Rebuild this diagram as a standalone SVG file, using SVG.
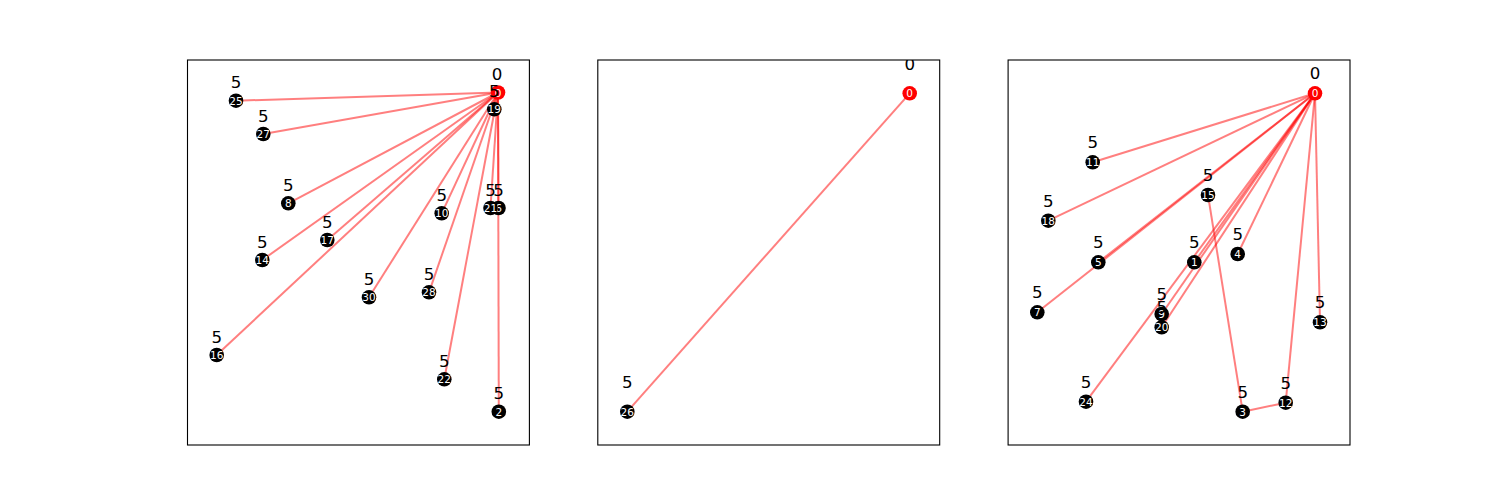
<svg xmlns="http://www.w3.org/2000/svg" width="1500" height="500" viewBox="0 0 1500 500">
<style>
.frame{fill:none;stroke:#000;stroke-width:1.1}
.e{stroke:#ff0000;stroke-opacity:0.5;stroke-width:2;fill:none}
.n{fill:#000}
.r{fill:#ff0000}
.in{font-family:"DejaVu Sans",sans-serif;font-size:10.5px;fill:#fff;text-anchor:middle;dominant-baseline:central}
.lb{font-family:"DejaVu Sans",sans-serif;font-size:16.67px;fill:#000;text-anchor:middle}
</style>
<defs>
<clipPath id="c1"><rect x="187.5" y="60" width="341.9" height="385"/></clipPath>
<clipPath id="c2"><rect x="597.8" y="60" width="341.9" height="385"/></clipPath>
<clipPath id="c3"><rect x="1008.1" y="60" width="341.9" height="385"/></clipPath>
</defs>
<rect width="1500" height="500" fill="#fff"/>

<!-- Panel 1 -->
<g id="panel1">
<g id="p1-edges" class="e">
<line x1="498" y1="92.5" x2="236" y2="100.7"/>
<line x1="498" y1="92.5" x2="263.3" y2="134"/>
<line x1="498" y1="92.5" x2="288.3" y2="203.3"/>
<line x1="498" y1="92.5" x2="327.3" y2="240"/>
<line x1="498" y1="92.5" x2="262.3" y2="260"/>
<line x1="498" y1="92.5" x2="216.7" y2="355"/>
<line x1="498" y1="92.5" x2="369" y2="297.3"/>
<line x1="498" y1="92.5" x2="441.7" y2="213.3"/>
<line x1="498" y1="92.5" x2="429" y2="292.3"/>
<line x1="498" y1="92.5" x2="490.5" y2="208"/>
<line x1="498" y1="92.5" x2="498.5" y2="208"/>
<line x1="498" y1="92.5" x2="444.3" y2="379.3"/>
<line x1="498" y1="92.5" x2="498.8" y2="411.7"/>
</g>
<g clip-path="url(#c1)">
<g id="p1-n0"><circle class="r" cx="498" cy="92.5" r="7.3"/><text class="in" x="498" y="92.5">0</text><text class="lb" x="497" y="80.2">0</text></g>
<g id="p1-n19"><circle class="n" cx="494.3" cy="109.3" r="7.3"/><text class="in" x="494.3" y="109.3">19</text><text class="lb" x="494.3" y="97">5</text></g>
<g id="p1-n25"><circle class="n" cx="236" cy="100.7" r="7.3"/><text class="in" x="236" y="100.7">25</text><text class="lb" x="236" y="88.4">5</text></g>
<g id="p1-n27"><circle class="n" cx="263.3" cy="134" r="7.3"/><text class="in" x="263.3" y="134">27</text><text class="lb" x="263.3" y="121.7">5</text></g>
<g id="p1-n8"><circle class="n" cx="288.3" cy="203.3" r="7.3"/><text class="in" x="288.3" y="203.3">8</text><text class="lb" x="288.3" y="191">5</text></g>
<g id="p1-n17"><circle class="n" cx="327.3" cy="240" r="7.3"/><text class="in" x="327.3" y="240">17</text><text class="lb" x="327.3" y="227.7">5</text></g>
<g id="p1-n14"><circle class="n" cx="262.3" cy="260" r="7.3"/><text class="in" x="262.3" y="260">14</text><text class="lb" x="262.3" y="247.7">5</text></g>
<g id="p1-n16"><circle class="n" cx="216.7" cy="355" r="7.3"/><text class="in" x="216.7" y="355">16</text><text class="lb" x="216.7" y="342.7">5</text></g>
<g id="p1-n30"><circle class="n" cx="369" cy="297.3" r="7.3"/><text class="in" x="369" y="297.3">30</text><text class="lb" x="369" y="285">5</text></g>
<g id="p1-n10"><circle class="n" cx="441.7" cy="213.3" r="7.3"/><text class="in" x="441.7" y="213.3">10</text><text class="lb" x="441.7" y="201">5</text></g>
<g id="p1-n28"><circle class="n" cx="429" cy="292.3" r="7.3"/><text class="in" x="429" y="292.3">28</text><text class="lb" x="429" y="280">5</text></g>
<g id="p1-n6"><circle class="n" cx="498.5" cy="208" r="7.3"/><text class="in" x="498.5" y="208">6</text><text class="lb" x="498.5" y="195.7">5</text></g>
<g id="p1-n21"><circle class="n" cx="490.5" cy="208" r="7.3"/><text class="in" x="490.5" y="208">21</text><text class="lb" x="490.5" y="195.7">5</text></g>
<g id="p1-n22"><circle class="n" cx="444.3" cy="379.3" r="7.3"/><text class="in" x="444.3" y="379.3">22</text><text class="lb" x="444.3" y="367">5</text></g>
<g id="p1-n2"><circle class="n" cx="498.8" cy="411.7" r="7.3"/><text class="in" x="498.8" y="411.7">2</text><text class="lb" x="498.8" y="399.4">5</text></g>
</g>
<rect class="frame" x="187.5" y="60" width="341.9" height="385"/>
</g>

<!-- Panel 2 -->
<g id="panel2">
<g id="p2-edges" class="e">
<line x1="909.7" y1="93.3" x2="627.3" y2="411.7"/>
</g>
<g clip-path="url(#c2)">
<g id="p2-n0"><circle class="r" cx="909.7" cy="93.3" r="7.3"/><text class="in" x="909.7" y="93.3">0</text><text class="lb" x="909.7" y="69.5">0</text></g>
<g id="p2-n26"><circle class="n" cx="627.3" cy="411.7" r="7.3"/><text class="in" x="627.3" y="411.7">26</text><text class="lb" x="627.3" y="388.3">5</text></g>
</g>
<rect class="frame" x="597.8" y="60" width="341.9" height="385"/>
</g>

<!-- Panel 3 -->
<g id="panel3">
<g id="p3-edges" class="e">
<line x1="1315" y1="93.3" x2="1092.7" y2="162.3"/>
<line x1="1315" y1="93.3" x2="1048.3" y2="220.7"/>
<line x1="1315" y1="93.3" x2="1098.3" y2="262.3"/>
<line x1="1315" y1="93.3" x2="1037.3" y2="312.3"/>
<line x1="1315" y1="93.3" x2="1194.3" y2="262.3"/>
<line x1="1315" y1="93.3" x2="1161.7" y2="314"/>
<line x1="1315" y1="93.3" x2="1161.7" y2="327.3"/>
<line x1="1315" y1="93.3" x2="1086" y2="401.7"/>
<line x1="1315" y1="93.3" x2="1237.7" y2="254"/>
<line x1="1315" y1="93.3" x2="1285.7" y2="402.7"/>
<line x1="1315" y1="93.3" x2="1320" y2="322.3"/>
<line x1="1208" y1="195" x2="1242.7" y2="411.7"/>
<line x1="1242.7" y1="411.7" x2="1285.7" y2="402.7"/>
</g>
<g clip-path="url(#c3)">
<g id="p3-n0"><circle class="r" cx="1315" cy="93.3" r="7.3"/><text class="in" x="1315" y="93.3">0</text><text class="lb" x="1315" y="79.3">0</text></g>
<g id="p3-n11"><circle class="n" cx="1092.7" cy="162.3" r="7.3"/><text class="in" x="1092.7" y="162.3">11</text><text class="lb" x="1092.7" y="148.3">5</text></g>
<g id="p3-n18"><circle class="n" cx="1048.3" cy="220.7" r="7.3"/><text class="in" x="1048.3" y="220.7">18</text><text class="lb" x="1048.3" y="206.7">5</text></g>
<g id="p3-n15"><circle class="n" cx="1208" cy="195" r="7.3"/><text class="in" x="1208" y="195">15</text><text class="lb" x="1208" y="181">5</text></g>
<g id="p3-n5"><circle class="n" cx="1098.3" cy="262.3" r="7.3"/><text class="in" x="1098.3" y="262.3">5</text><text class="lb" x="1098.3" y="248.3">5</text></g>
<g id="p3-n1"><circle class="n" cx="1194.3" cy="262.3" r="7.3"/><text class="in" x="1194.3" y="262.3">1</text><text class="lb" x="1194.3" y="248.3">5</text></g>
<g id="p3-n4"><circle class="n" cx="1237.7" cy="254" r="7.3"/><text class="in" x="1237.7" y="254">4</text><text class="lb" x="1237.7" y="240">5</text></g>
<g id="p3-n7"><circle class="n" cx="1037.3" cy="312.3" r="7.3"/><text class="in" x="1037.3" y="312.3">7</text><text class="lb" x="1037.3" y="298.3">5</text></g>
<g id="p3-n9"><circle class="n" cx="1161.7" cy="314" r="7.3"/><text class="in" x="1161.7" y="314">9</text><text class="lb" x="1161.7" y="300">5</text></g>
<g id="p3-n20"><circle class="n" cx="1161.7" cy="327.3" r="7.3"/><text class="in" x="1161.7" y="327.3">20</text><text class="lb" x="1161.7" y="313.3">5</text></g>
<g id="p3-n13"><circle class="n" cx="1320" cy="322.3" r="7.3"/><text class="in" x="1320" y="322.3">13</text><text class="lb" x="1320" y="308.3">5</text></g>
<g id="p3-n24"><circle class="n" cx="1086" cy="401.7" r="7.3"/><text class="in" x="1086" y="401.7">24</text><text class="lb" x="1086" y="387.7">5</text></g>
<g id="p3-n3"><circle class="n" cx="1242.7" cy="411.7" r="7.3"/><text class="in" x="1242.7" y="411.7">3</text><text class="lb" x="1242.7" y="397.7">5</text></g>
<g id="p3-n12"><circle class="n" cx="1285.7" cy="402.7" r="7.3"/><text class="in" x="1285.7" y="402.7">12</text><text class="lb" x="1285.7" y="388.7">5</text></g>
</g>
<rect class="frame" x="1008.1" y="60" width="341.9" height="385"/>
</g>
</svg>
